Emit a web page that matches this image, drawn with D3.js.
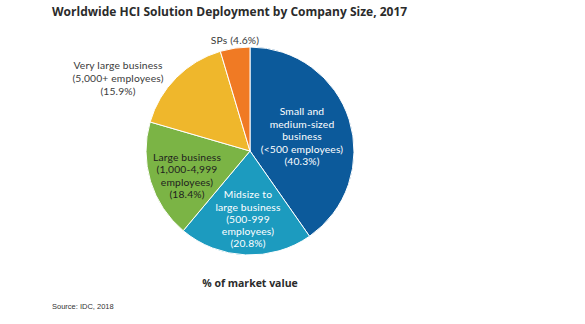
<!DOCTYPE html>
<html>
<head>
<meta charset="utf-8">
<script src="https://cdn.jsdelivr.net/npm/d3@7/dist/d3.min.js"></script>
<style>
  html, body { margin: 0; padding: 0; background: #fff; }
  svg { display: block; }
</style>
</head>
<body>
<svg id="chart" width="585" height="324"></svg>
<script>
// Segments listed clockwise from 12 o'clock
const segments = ["SMB", "Midsize", "Large", "VeryLarge", "SPs"];
const shares = [40.3, 20.8, 18.4, 15.9, 4.6];
const colors = ["#0c5a9b", "#1c9bbf", "#7bb445", "#efb72c", "#f07a24"];
const labelLines = [
  ["Small and", "medium-sized", "business", "(<500 employees)", "(40.3%)"],
  ["Midsize to", "large business", "(500-999", "employees)", "(20.8%)"],
  ["Large business", "(1,000-4,999", "employees)", "(18.4%)"],
  ["Very large business", "(5,000+ employees)", "(15.9%)"],
  ["SPs (4.6%)"]
];
const labelColors = ["#ffffff", "#ffffff", "#1e1e1e", "#3a3a3a", "#3a3a3a"];

const title = "Worldwide HCI Solution Deployment by Company Size, 2017";
const axisNote = "% of market value";
const source = "Source: IDC, 2018";

const svg = d3.select("#chart");
const cx = 250, cy = 151, r = 104;

const pie = d3.pie().sort(null).value(d => d);
const arcs = pie(shares);
const arc = d3.arc().innerRadius(0).outerRadius(r);

const g = svg.append("g").attr("transform", `translate(${cx},${cy})`);
g.selectAll("path")
  .data(arcs)
  .join("path")
  .attr("d", arc)
  .attr("fill", (d, i) => colors[i])
  .attr("stroke", "#ffffff")
  .attr("stroke-width", 1);

// Label block centres relative to the pie centre, and line spacing
const labelLayout = [
  { dx: 52, dy: -14.3, lineH: 12.5 },
  { dx: -2, dy: 68, lineH: 12.1 },
  { dx: -63, dy: 25, lineH: 12.4 },
  { dx: -132, dy: -72.7, lineH: 13.2 },
  { dx: -15, dy: -110.5, lineH: 12 }
];

labelLines.forEach((lines, i) => {
  const p = labelLayout[i];
  const t = g.append("text")
    .attr("text-anchor", "middle")
    .attr("font-family", "Lato, 'Open Sans', sans-serif")
    .attr("font-size", 10.3)
    .attr("letter-spacing", 0.15)
    .attr("fill", labelColors[i]);
  lines.forEach((ln, k) => {
    t.append("tspan")
      .attr("x", p.dx)
      .attr("y", p.dy + (k - (lines.length - 1) / 2) * p.lineH + 3.6)
      .text(ln);
  });
});

svg.append("text")
  .attr("x", 52).attr("y", 16)
  .attr("font-family", "'Open Sans', sans-serif")
  .attr("font-weight", "bold")
  .attr("font-size", 12)
  .attr("fill", "#2b2b2b")
  .text(title);

svg.append("text")
  .attr("x", cx).attr("y", 287)
  .attr("text-anchor", "middle")
  .attr("font-family", "'Open Sans', sans-serif")
  .attr("font-weight", "bold")
  .attr("font-size", 10.5)
  .attr("fill", "#2b2b2b")
  .text(axisNote);

svg.append("text")
  .attr("x", 52).attr("y", 309)
  .attr("font-family", "'Liberation Sans', Arial, sans-serif")
  .attr("font-size", 7.5)
  .attr("fill", "#333")
  .text(source);
</script>
</body>
</html>
